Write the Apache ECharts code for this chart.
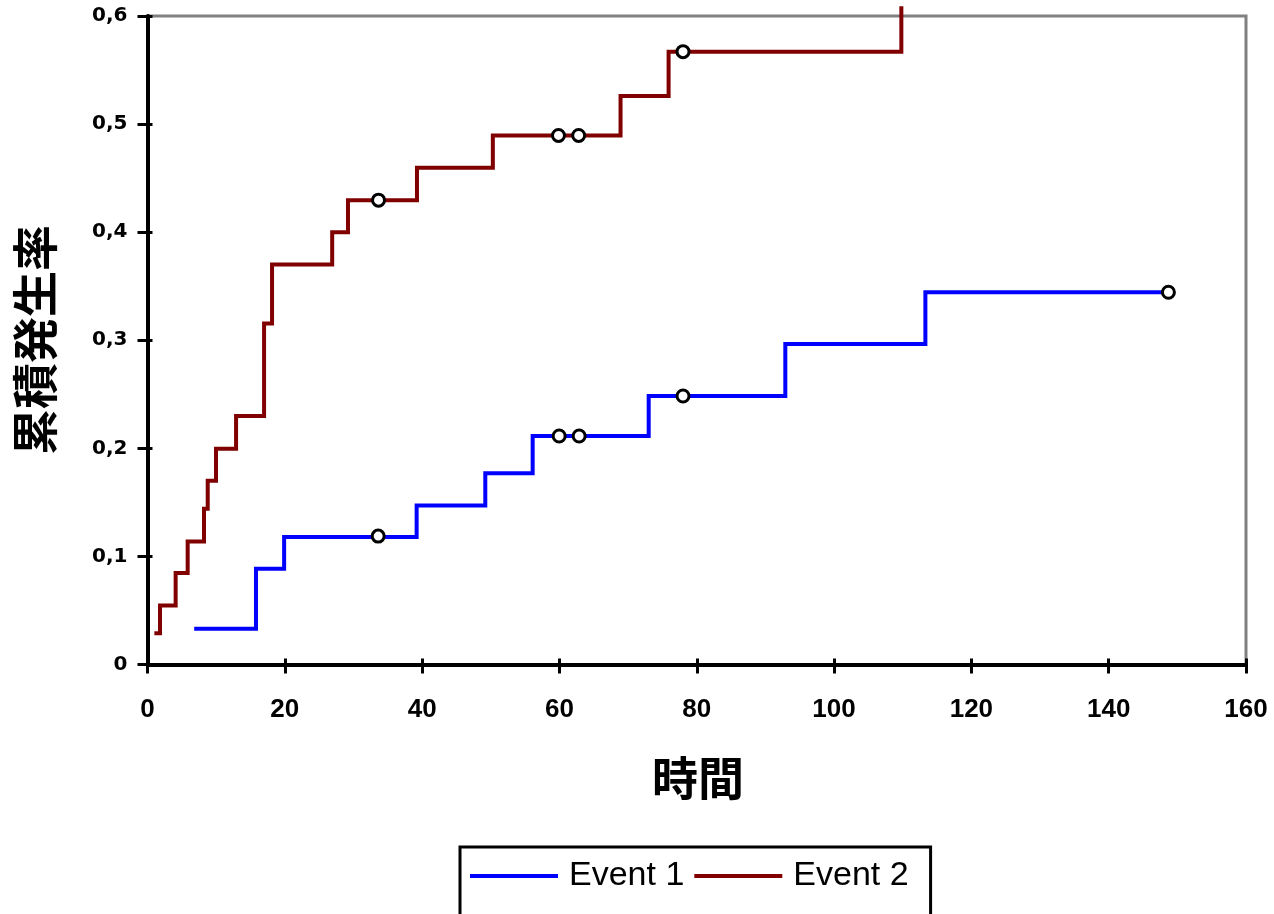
<!DOCTYPE html>
<html>
<head>
<meta charset="utf-8">
<script src="https://cdn.jsdelivr.net/npm/echarts@6/dist/echarts.min.js"></script>
<style>
html,body{margin:0;padding:0;background:#fff;}
#chart{width:1274px;height:914px;}
</style>
</head>
<body>
<div id="chart"></div>
<script>
// ---- data ----
const seriesNames = ['Event 1', 'Event 2'];
const event1Times  = [6.8, 15.8, 19.9, 39.2, 49.2, 56.1, 73.0, 92.9, 113.3, 148.7];
const event1Values = [0.033, 0.0886, 0.118, 0.147, 0.177, 0.2114, 0.2484, 0.2966, 0.3444, 0.3444];
const event2Times  = [1.0, 1.82, 4.1, 5.85, 8.23, 8.77, 9.98, 12.9, 16.98, 18.14, 26.9, 29.2, 39.25, 50.3, 68.9, 75.9, 109.8];
const event2Values = [0.029, 0.0546, 0.0846, 0.1139, 0.144, 0.170, 0.1997, 0.230, 0.3154, 0.370, 0.400, 0.4296, 0.4596, 0.4895, 0.526, 0.567, 0.609];
const event1CensorTimes  = [33.6, 59.96, 62.87, 78.0, 148.7];
const event1CensorValues = [0.1188, 0.2114, 0.2114, 0.2484, 0.3444];
const event2CensorTimes  = [33.65, 59.86, 62.8, 78.0];
const event2CensorValues = [0.4296, 0.4895, 0.4895, 0.567];
const xTitle = '時間';
const yTitle = '累積発生率';

const zip = (a, b) => a.map((v, i) => [v, b[i]]);

const chart = echarts.init(document.getElementById('chart'));
const xBase = {
  type: 'value', min: 0, max: 160, interval: 20, position: 'bottom',
  splitLine: { show: false }
};
const yBase = {
  type: 'value', min: 0, max: 0.6, interval: 0.1, position: 'left',
  splitLine: { show: false }
};
const markerStyle = {
  type: 'scatter', symbol: 'circle', symbolSize: 12, z: 5,
  itemStyle: { color: '#fff', borderColor: '#000', borderWidth: 3, opacity: 1 },
  emphasis: { disabled: true },
  silent: true
};
chart.setOption({
  animation: false,
  grid: {
    left: 147.5, top: 16, right: 28, bottom: 249.5,
    show: true, borderColor: '#808080', borderWidth: 3, backgroundColor: 'transparent'
  },
  xAxis: [
    Object.assign({}, xBase, {
      axisLine: { show: true, onZero: false, lineStyle: { color: '#000', width: 4 } },
      axisTick: { show: true, inside: false, length: 9, lineStyle: { color: '#000', width: 3 } },
      axisLabel: {
        show: true, margin: 32, color: '#000',
        fontFamily: 'Liberation Sans', fontWeight: 'bold', fontSize: 26, lineHeight: 26
      }
    }),
    Object.assign({}, xBase, {
      axisLine: { show: false, onZero: false },
      axisTick: { show: true, inside: true, length: 6, lineStyle: { color: '#000', width: 3 } },
      axisLabel: { show: false }
    })
  ],
  yAxis: [
    Object.assign({}, yBase, {
      axisLine: { show: true, onZero: false, lineStyle: { color: '#000', width: 4 } },
      axisTick: { show: true, inside: false, length: 10, lineStyle: { color: '#000', width: 3 } },
      axisLabel: {
        show: true, margin: 20, color: '#000',
        fontFamily: 'DejaVu Sans', fontWeight: 'bold', fontSize: 20,
        formatter: v => v === 0 ? '0' : v.toFixed(1).replace('.', ',')
      }
    }),
    Object.assign({}, yBase, {
      axisLine: { show: false, onZero: false },
      axisTick: { show: true, inside: true, length: 5, lineStyle: { color: '#000', width: 3 } },
      axisLabel: { show: false }
    })
  ],
  legend: {
    data: seriesNames,
    left: 460, top: 847,
    orient: 'horizontal',
    icon: 'rect', itemWidth: 88, itemHeight: 4, itemGap: 10,
    padding: [12, 22, 70, 10],
    borderColor: '#000', borderWidth: 3, backgroundColor: '#fff',
    textStyle: { fontFamily: 'Liberation Sans', fontSize: 34, lineHeight: 34, color: '#000', padding: [0, 0, 0, 6] }
  },
  graphic: [
    {
      type: 'text', x: 35, y: 340, rotation: Math.PI / 2,
      style: {
        text: yTitle, fill: '#000', font: 'bold 46px "Noto Sans CJK JP"',
        align: 'center', verticalAlign: 'middle'
      }
    },
    {
      type: 'text', x: 698, y: 778,
      style: {
        text: xTitle, fill: '#000', font: 'bold 46px "Noto Sans CJK JP"',
        align: 'center', verticalAlign: 'middle'
      }
    }
  ],
  series: [
    {
      name: seriesNames[0], type: 'line', step: 'end', clip: false,
      data: zip(event1Times, event1Values),
      symbol: 'none', color: '#0000ff',
      lineStyle: { color: '#0000ff', width: 4, cap: 'butt', join: 'miter' }, z: 3
    },
    {
      name: seriesNames[1], type: 'line', step: 'end', clip: false,
      data: zip(event2Times, event2Values),
      symbol: 'none', color: '#800000',
      lineStyle: { color: '#800000', width: 4, cap: 'butt', join: 'miter' }, z: 3
    },
    Object.assign({}, markerStyle, { name: 'c1', data: zip(event1CensorTimes, event1CensorValues) }),
    Object.assign({}, markerStyle, { name: 'c2', data: zip(event2CensorTimes, event2CensorValues) })
  ]
});
</script>
</body>
</html>
